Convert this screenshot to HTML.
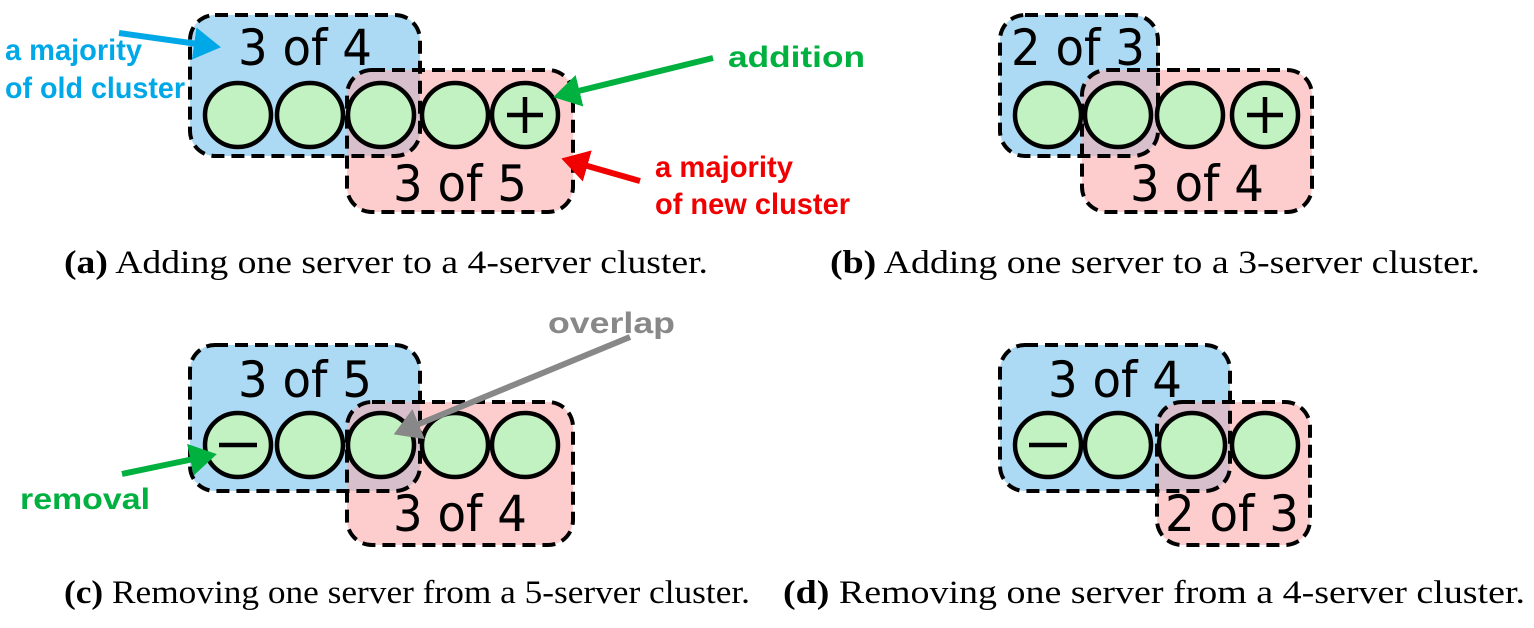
<!DOCTYPE html>
<html><head><meta charset="utf-8"><style>
html,body{margin:0;padding:0;background:#fff;}
svg{display:block;}
.n{font-family:"DejaVu Sans",sans-serif;font-size:50px;text-anchor:middle;fill:#000;}
.lab{font-family:"Liberation Sans",sans-serif;font-weight:bold;font-size:30px;}
.cap{font-family:"Liberation Serif",serif;font-size:33px;fill:#000;}
.box{stroke:#000;stroke-width:4;stroke-dasharray:13 7;fill:none;}
.c{fill:#c2f2c2;stroke:#000;stroke-width:4.5;}
</style></head><body>
<svg width="1534" height="628" viewBox="0 0 1534 628" xmlns="http://www.w3.org/2000/svg">
<defs>
<clipPath id="ca"><rect x="190" y="15" width="230" height="141" rx="25"/></clipPath>
<clipPath id="cb"><rect x="1000" y="15" width="158" height="141" rx="25"/></clipPath>
<clipPath id="cc"><rect x="190" y="345" width="230" height="146" rx="25"/></clipPath>
<clipPath id="cd"><rect x="1000" y="345" width="230" height="146" rx="25"/></clipPath>
<marker id="ab" markerWidth="6" markerHeight="6" refX="3" refY="3" orient="auto" markerUnits="strokeWidth"><path d="M0,0.3 L4.5,3 L0,5.7Z" fill="#00a8e8"/></marker>
<marker id="ag" markerWidth="6" markerHeight="6" refX="3" refY="3" orient="auto" markerUnits="strokeWidth"><path d="M0,0.3 L4.5,3 L0,5.7Z" fill="#00b140"/></marker>
<marker id="ar" markerWidth="6" markerHeight="6" refX="3" refY="3" orient="auto" markerUnits="strokeWidth"><path d="M0,0.3 L4.5,3 L0,5.7Z" fill="#f00000"/></marker>
<marker id="ay" markerWidth="6" markerHeight="6" refX="3" refY="3" orient="auto" markerUnits="strokeWidth"><path d="M0,0.3 L4.5,3 L0,5.7Z" fill="#888"/></marker>
</defs>

<!-- (a) -->
<rect x="190" y="15" width="230" height="141" rx="25" fill="#acd9f3"/>
<rect x="347" y="70" width="226" height="142" rx="25" fill="#fdcdcd"/>
<rect x="347" y="70" width="226" height="142" rx="25" fill="#d8bfcc" clip-path="url(#ca)"/>
<rect x="190" y="15" width="230" height="141" rx="25" class="box"/>
<rect x="347" y="70" width="226" height="142" rx="25" class="box"/>
<text x="305" y="65" class="n" textLength="134" lengthAdjust="spacingAndGlyphs">3 of 4</text>
<text x="460" y="201" class="n" textLength="134" lengthAdjust="spacingAndGlyphs">3 of 5</text>
<ellipse cx="238" cy="115" rx="33" ry="32" class="c"/>
<ellipse cx="310" cy="115" rx="33" ry="32" class="c"/>
<ellipse cx="381" cy="115" rx="33" ry="32" class="c"/>
<ellipse cx="455" cy="115" rx="33" ry="32" class="c"/>
<ellipse cx="525" cy="115" rx="33" ry="32" class="c"/>
<path d="M507,115 H543 M525,97 V133" stroke="#000" stroke-width="4.5"/>
<text class="lab" fill="#00a8e8"><tspan x="5" y="60" textLength="137" lengthAdjust="spacingAndGlyphs">a majority</tspan><tspan x="5" y="98" textLength="180" lengthAdjust="spacingAndGlyphs">of old cluster</tspan></text>
<line x1="119" y1="33" x2="212" y2="46" stroke="#00a8e8" stroke-width="6" marker-end="url(#ab)"/>
<text x="728" y="67" class="lab" fill="#00b140" font-size="33" textLength="137" lengthAdjust="spacingAndGlyphs">addition</text>
<line x1="713" y1="58" x2="562" y2="95" stroke="#00b140" stroke-width="6" marker-end="url(#ag)"/>
<text class="lab" fill="#f00000"><tspan x="655" y="177" textLength="138" lengthAdjust="spacingAndGlyphs">a majority</tspan><tspan x="655" y="214" textLength="195" lengthAdjust="spacingAndGlyphs">of new cluster</tspan></text>
<line x1="640" y1="181" x2="570" y2="161" stroke="#f00000" stroke-width="6" marker-end="url(#ar)"/>
<text x="64" y="273" class="cap" textLength="644" lengthAdjust="spacingAndGlyphs"><tspan font-weight="bold">(a)</tspan> Adding one server to a 4-server cluster.</text>

<!-- (b) -->
<rect x="1000" y="15" width="158" height="141" rx="25" fill="#acd9f3"/>
<rect x="1082" y="70" width="230" height="142" rx="25" fill="#fdcdcd"/>
<rect x="1082" y="70" width="230" height="142" rx="25" fill="#d8bfcc" clip-path="url(#cb)"/>
<rect x="1000" y="15" width="158" height="141" rx="25" class="box"/>
<rect x="1082" y="70" width="230" height="142" rx="25" class="box"/>
<text x="1078" y="65" class="n" textLength="134" lengthAdjust="spacingAndGlyphs">2 of 3</text>
<text x="1197" y="201" class="n" textLength="134" lengthAdjust="spacingAndGlyphs">3 of 4</text>
<ellipse cx="1048" cy="115" rx="33" ry="32" class="c"/>
<ellipse cx="1118" cy="115" rx="33" ry="32" class="c"/>
<ellipse cx="1190" cy="115" rx="33" ry="32" class="c"/>
<ellipse cx="1265" cy="115" rx="33" ry="32" class="c"/>
<path d="M1247,115 H1283 M1265,97 V133" stroke="#000" stroke-width="4.5"/>
<text x="830" y="273" class="cap" textLength="650" lengthAdjust="spacingAndGlyphs"><tspan font-weight="bold">(b)</tspan> Adding one server to a 3-server cluster.</text>

<!-- (c) -->
<rect x="190" y="345" width="230" height="146" rx="25" fill="#acd9f3"/>
<rect x="347" y="402" width="226" height="143" rx="25" fill="#fdcdcd"/>
<rect x="347" y="402" width="226" height="143" rx="25" fill="#d8bfcc" clip-path="url(#cc)"/>
<rect x="190" y="345" width="230" height="146" rx="25" class="box"/>
<rect x="347" y="402" width="226" height="143" rx="25" class="box"/>
<text x="305" y="397" class="n" textLength="134" lengthAdjust="spacingAndGlyphs">3 of 5</text>
<text x="460" y="531" class="n" textLength="134" lengthAdjust="spacingAndGlyphs">3 of 4</text>
<ellipse cx="238" cy="445" rx="33" ry="32" class="c"/>
<ellipse cx="310" cy="445" rx="33" ry="32" class="c"/>
<ellipse cx="381" cy="445" rx="33" ry="32" class="c"/>
<ellipse cx="455" cy="445" rx="33" ry="32" class="c"/>
<ellipse cx="525" cy="445" rx="33" ry="32" class="c"/>
<path d="M219,445 H257" stroke="#000" stroke-width="4.5"/>
<text x="548" y="333" class="lab" fill="#888" font-size="33" textLength="127" lengthAdjust="spacingAndGlyphs">overlap</text>
<line x1="630" y1="337" x2="402" y2="431" stroke="#888" stroke-width="6" marker-end="url(#ay)"/>
<text x="20" y="509" class="lab" fill="#00b140" font-size="33" textLength="130" lengthAdjust="spacingAndGlyphs">removal</text>
<line x1="122" y1="474" x2="208" y2="456" stroke="#00b140" stroke-width="6" marker-end="url(#ag)"/>
<text x="64" y="603" class="cap" textLength="686" lengthAdjust="spacingAndGlyphs"><tspan font-weight="bold">(c)</tspan> Removing one server from a 5-server cluster.</text>

<!-- (d) -->
<rect x="1000" y="345" width="230" height="146" rx="25" fill="#acd9f3"/>
<rect x="1157" y="402" width="153" height="143" rx="25" fill="#fdcdcd"/>
<rect x="1157" y="402" width="153" height="143" rx="25" fill="#d8bfcc" clip-path="url(#cd)"/>
<rect x="1000" y="345" width="230" height="146" rx="25" class="box"/>
<rect x="1157" y="402" width="153" height="143" rx="25" class="box"/>
<text x="1115" y="397" class="n" textLength="134" lengthAdjust="spacingAndGlyphs">3 of 4</text>
<text x="1232" y="531" class="n" textLength="134" lengthAdjust="spacingAndGlyphs">2 of 3</text>
<ellipse cx="1048" cy="445" rx="33" ry="32" class="c"/>
<ellipse cx="1118" cy="445" rx="33" ry="32" class="c"/>
<ellipse cx="1192" cy="445" rx="33" ry="32" class="c"/>
<ellipse cx="1265" cy="445" rx="33" ry="32" class="c"/>
<path d="M1029,445 H1067" stroke="#000" stroke-width="4.5"/>
<text x="783" y="603" class="cap" textLength="742" lengthAdjust="spacingAndGlyphs"><tspan font-weight="bold">(d)</tspan> Removing one server from a 4-server cluster.</text>
</svg>
</body></html>
